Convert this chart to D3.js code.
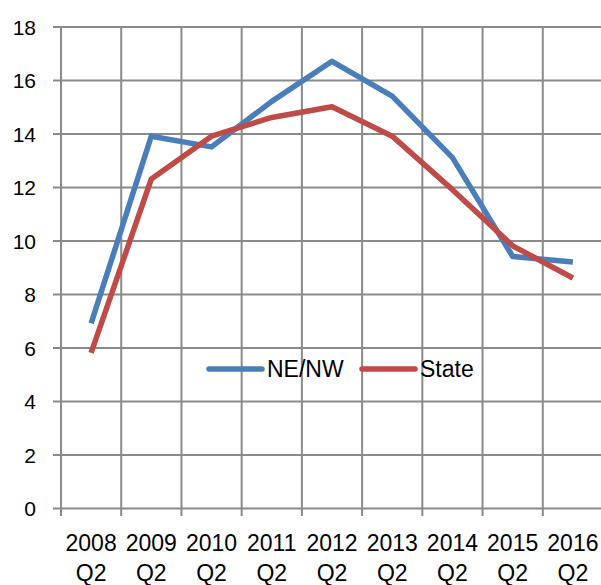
<!DOCTYPE html>
<html>
<head>
<meta charset="utf-8">
<script src="https://cdn.jsdelivr.net/npm/d3@7"></script>
<style>
  body { margin: 0; background: #fff; }
  text { font-family: "Liberation Sans", Arial, sans-serif; fill: #000; }
</style>
</head>
<body>
<svg id="chart" width="601" height="585"></svg>
<script>
// quarters on the x axis
var years = ["2008", "2009", "2010", "2011", "2012", "2013", "2014", "2015", "2016"];
var quarter = "Q2";
// series values
var neNw = [6.9, 13.9, 13.5, 15.2, 16.7, 15.4, 13.1, 9.4, 9.2];
var state = [5.8, 12.3, 13.9, 14.6, 15.0, 13.9, 11.9, 9.8, 8.6];
var yTicks = [0, 2, 4, 6, 8, 10, 12, 14, 16, 18];

var svg = d3.select("#chart"),
    MARGINS = { top: 26.5, right: -2, bottom: 77, left: 61 },
    WIDTH = 601,
    HEIGHT = 585;

var xScale = d3.scaleBand()
  .domain(years)
  .range([MARGINS.left, WIDTH - MARGINS.right]);
var yScale = d3.scaleLinear()
  .domain([0, 18])
  .range([HEIGHT - MARGINS.bottom, MARGINS.top]);

var gridColor = "#8a8a8a";

// horizontal gridlines + y labels
var yAxis = d3.axisLeft(yScale)
  .tickValues(yTicks)
  .tickSize(-(WIDTH - MARGINS.left + 8))
  .tickPadding(17)
  .tickFormat(d3.format("d"));

var gy = svg.append("g")
  .attr("transform", "translate(" + (MARGINS.left - 8) + ",0)")
  .call(yAxis);
gy.select(".domain").remove();
gy.selectAll("line").attr("stroke", gridColor).attr("stroke-width", 2);
gy.selectAll("text").attr("font-size", 21).attr("dx", 0).attr("dy", "0.36em");

// vertical gridlines at band edges
var edges = years.map(function(y) { return xScale(y); });
edges.push(xScale(years[years.length - 1]) + xScale.bandwidth());
svg.append("g").selectAll("line")
  .data(edges)
  .enter().append("line")
  .attr("x1", function(d) { return d; })
  .attr("x2", function(d) { return d; })
  .attr("y1", MARGINS.top)
  .attr("y2", HEIGHT - MARGINS.bottom + 8)
  .attr("stroke", gridColor)
  .attr("stroke-width", 2);

// x labels (two lines)
var xl = svg.append("g").selectAll("text")
  .data(years)
  .enter().append("text")
  .attr("text-anchor", "middle")
  .attr("font-size", 23)
  .attr("x", function(d) { return xScale(d) + xScale.bandwidth() / 2; });
xl.append("tspan")
  .attr("x", function(d) { return xScale(d) + xScale.bandwidth() / 2; })
  .attr("y", 551)
  .text(function(d) { return d; });
xl.append("tspan")
  .attr("x", function(d) { return xScale(d) + xScale.bandwidth() / 2; })
  .attr("y", 581)
  .text(quarter);

var lineGen = d3.line()
  .x(function(d, i) { return xScale(years[i]) + xScale.bandwidth() / 2; })
  .y(function(d) { return yScale(d); });

var series = [
  { name: "NE/NW", values: neNw, color: "#4a7ebb" },
  { name: "State", values: state, color: "#be4b48" }
];

series.forEach(function(s) {
  svg.append("path")
    .attr("d", lineGen(s.values))
    .attr("stroke", s.color)
    .attr("stroke-width", 5.5)
    .attr("stroke-linejoin", "round")
    .attr("fill", "none");
});

// legend
var legendX = [207, 360];
var legend = svg.append("g");
series.forEach(function(s, i) {
  legend.append("line")
    .attr("x1", legendX[i] + 2).attr("x2", legendX[i] + 55)
    .attr("y1", 369).attr("y2", 369)
    .attr("stroke", s.color)
    .attr("stroke-width", 5.5)
    .attr("stroke-linecap", "round");
  legend.append("text")
    .attr("x", legendX[i] + 60)
    .attr("y", 369)
    .attr("dy", "0.36em")
    .attr("font-size", 23)
    .text(s.name);
});
</script>
</body>
</html>
